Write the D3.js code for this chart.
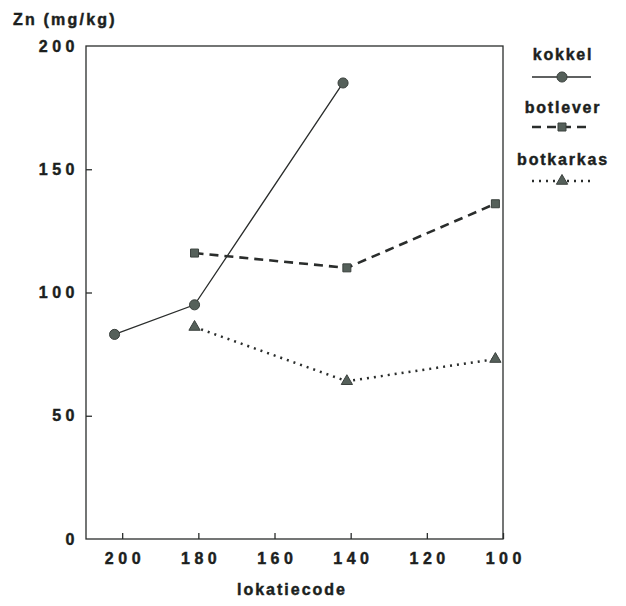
<!DOCTYPE html>
<html>
<head>
<meta charset="utf-8">
<script src="https://cdn.jsdelivr.net/npm/d3@7"></script>
<style>
  body { margin: 0; background: #fff; }
  text { font-family: "Liberation Sans", Arial, sans-serif; font-weight: bold; fill: #1c1f1e;
         stroke: #1c1f1e; stroke-width: 0.45px; }
</style>
</head>
<body>
<svg id="chart"></svg>
<script>
// data
const seriesNames = ['kokkel', 'botlever', 'botkarkas']
const kokkel = [[202, 83], [181, 95], [142, 185]]
const botlever = [[181, 116], [141, 110], [102, 136]]
const botkarkas = [[181, 86], [141, 64], [102, 73]]
const xTicks = [200, 180, 160, 140, 120, 100]
const yTicks = [0, 50, 100, 150, 200]

const w = 626, h = 606
const plotLeft = 86, plotRight = 503, plotTop = 46, plotBottom = 539

const svg = d3.select('#chart').attr('width', w).attr('height', h)

const x = d3.scaleLinear().domain([209.5, 100]).range([plotLeft, plotRight])
const y = d3.scaleLinear().domain([0, 200]).range([plotBottom, plotTop])

const ink = '#2a2d2c'
const numSpacing = 4.5

// frame
svg.append('rect')
  .attr('x', plotLeft).attr('y', plotTop)
  .attr('width', plotRight - plotLeft).attr('height', plotBottom - plotTop)
  .attr('fill', 'none').attr('stroke', ink).attr('stroke-width', 1.3)

// x axis, ticks pointing inward
const xAxis = d3.axisBottom(x).tickValues(xTicks).tickSizeInner(-6).tickSizeOuter(0).tickPadding(14)
const gx = svg.append('g').attr('transform', `translate(0, ${plotBottom})`).call(xAxis)
gx.select('.domain').remove()
gx.selectAll('line').attr('stroke', ink).attr('stroke-width', 1.3)
gx.selectAll('text').attr('font-size', 16).style('letter-spacing', numSpacing + 'px')
  .attr('dx', numSpacing / 2).attr('fill', '#1c1f1e')

const yAxis = d3.axisLeft(y).tickValues(yTicks).tickSizeInner(-6).tickSizeOuter(0).tickPadding(7)
const gy = svg.append('g').attr('transform', `translate(${plotLeft}, 0)`).call(yAxis)
gy.select('.domain').remove()
gy.selectAll('line').attr('stroke', ink).attr('stroke-width', 1.3)
gy.selectAll('text').attr('font-size', 16).style('letter-spacing', numSpacing + 'px').attr('fill', '#1c1f1e')
gy.selectAll('.tick').filter(d => d === 0 || d === 200).select('line').remove()

// axis titles
svg.append('text').attr('x', 13).attr('y', 25).attr('font-size', 16)
  .style('letter-spacing', '2.2px').text('Zn (mg/kg)')
svg.append('text').attr('x', 292).attr('y', 595).attr('text-anchor', 'middle')
  .attr('font-size', 16).style('letter-spacing', '2px').text('lokatiecode')

const line = d3.line().x(d => x(d[0])).y(d => y(d[1]))
const styles = [
  { data: kokkel, width: 1.3, dash: null, shape: d3.symbolCircle, size: 80 },
  { data: botlever, width: 2.6, dash: '9,6', shape: d3.symbolSquare, size: 64 },
  { data: botkarkas, width: 2.5, dash: '2,5', shape: d3.symbolTriangle, size: 55 }
]
const markFill = '#55605a'

styles.forEach(s => {
  svg.append('path').datum(s.data).attr('d', line)
    .attr('fill', 'none').attr('stroke', ink).attr('stroke-width', s.width)
    .attr('stroke-dasharray', s.dash)
  svg.selectAll(null).data(s.data).join('path')
    .attr('d', d3.symbol().type(s.shape).size(s.size))
    .attr('transform', d => `translate(${x(d[0])}, ${y(d[1])})`)
    .attr('fill', markFill).attr('stroke', '#3a403d').attr('stroke-width', 1)
})

// legend
const legendText = [60, 113, 165]
const legendLine = [77, 127, 181]
seriesNames.forEach((name, i) => {
  const s = styles[i]
  svg.append('text').attr('x', 563).attr('y', legendText[i]).attr('text-anchor', 'middle')
    .attr('font-size', 16).style('letter-spacing', '1.8px').text(name)
  svg.append('line').attr('x1', 532).attr('x2', 591).attr('y1', legendLine[i]).attr('y2', legendLine[i])
    .attr('stroke', ink).attr('stroke-width', s.width).attr('stroke-dasharray', s.dash)
  svg.append('path').attr('d', d3.symbol().type(s.shape).size(s.size))
    .attr('transform', `translate(562, ${legendLine[i]})`)
    .attr('fill', markFill).attr('stroke', '#3a403d').attr('stroke-width', 1)
})
</script>
</body>
</html>
